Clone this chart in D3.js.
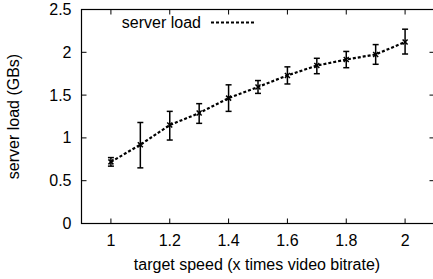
<!DOCTYPE html>
<html><head><meta charset="utf-8">
<script src="https://cdn.jsdelivr.net/npm/d3@7"></script>
<style>body{margin:0;background:#fff}svg{display:block}text{font-family:"Liberation Sans",Arial,sans-serif;fill:#000}</style>
</head><body><svg id="c" width="433" height="279"></svg>
<script>
const speeds = [1.0, 1.1, 1.2, 1.3, 1.4, 1.5, 1.6, 1.7, 1.8, 1.9, 2.0];
const load   = [0.72, 0.92, 1.15, 1.29, 1.465, 1.595, 1.73, 1.845, 1.915, 1.975, 2.12];
const errLow = [0.67, 0.65, 0.975, 1.17, 1.31, 1.52, 1.63, 1.75, 1.82, 1.86, 1.98];
const errHigh= [0.77, 1.18, 1.31, 1.40, 1.62, 1.67, 1.83, 1.93, 2.01, 2.09, 2.27];
const xTicks = [1, 1.2, 1.4, 1.6, 1.8, 2];
const yTicks = [0, 0.5, 1, 1.5, 2, 2.5];
const seriesName = "server load";

const svg = d3.select("#c");
const L = 81.5, R = 434.5, T = 9.5, B = 223.5;
const x = d3.scaleLinear().domain([0.9, 2.1]).range([L, R]);
const y = d3.scaleLinear().domain([0, 2.5]).range([B, T]);
const fs = 16;

svg.append("rect").attr("x", L).attr("y", T).attr("width", R - L).attr("height", B - T)
  .attr("fill", "none").attr("stroke", "#000").attr("stroke-width", 1.2);

const tl = 5;
xTicks.forEach(v => {
  svg.append("line").attr("x1", x(v)).attr("x2", x(v)).attr("y1", B).attr("y2", B - tl).attr("stroke", "#000");
  svg.append("line").attr("x1", x(v)).attr("x2", x(v)).attr("y1", T).attr("y2", T + tl).attr("stroke", "#000");
  svg.append("text").attr("x", x(v)).attr("y", B + 22).attr("text-anchor", "middle")
    .attr("font-size", fs).text(d3.format("")(v));
});
yTicks.forEach(v => {
  svg.append("line").attr("x1", L).attr("x2", L + tl).attr("y1", y(v)).attr("y2", y(v)).attr("stroke", "#000");
  svg.append("line").attr("x1", R).attr("x2", R - tl).attr("y1", y(v)).attr("y2", y(v)).attr("stroke", "#000");
  svg.append("text").attr("x", L - 10).attr("y", y(v) + 5.5).attr("text-anchor", "end")
    .attr("font-size", fs).text(d3.format("")(v));
});

svg.append("text").attr("x", 257).attr("y", 270).attr("text-anchor", "middle")
  .attr("font-size", fs).text("target speed (x times video bitrate)");
svg.append("text").attr("transform", `translate(19,${(T + B) / 2}) rotate(-90)`).attr("text-anchor", "middle")
  .attr("font-size", fs).text("server load (GBs)");

const data = speeds.map((s, i) => ({s, v: load[i], lo: errLow[i], hi: errHigh[i]}));
svg.append("path").datum(data)
  .attr("d", d3.line().x(d => x(d.s)).y(d => y(d.v)))
  .attr("fill", "none").attr("stroke", "#000").attr("stroke-width", 2.2).attr("stroke-dasharray", "3,2");

const cw = 3;
data.forEach(d => {
  const g = svg.append("g").attr("stroke", "#000").attr("stroke-width", 1.5);
  g.append("line").attr("x1", x(d.s)).attr("x2", x(d.s)).attr("y1", y(d.lo)).attr("y2", y(d.hi));
  g.append("line").attr("x1", x(d.s) - cw).attr("x2", x(d.s) + cw).attr("y1", y(d.lo)).attr("y2", y(d.lo));
  g.append("line").attr("x1", x(d.s) - cw).attr("x2", x(d.s) + cw).attr("y1", y(d.hi)).attr("y2", y(d.hi));
  const m = 2.5;
  g.append("line").attr("x1", x(d.s) - m).attr("x2", x(d.s) + m).attr("y1", y(d.v) - m).attr("y2", y(d.v) + m);
  g.append("line").attr("x1", x(d.s) - m).attr("x2", x(d.s) + m).attr("y1", y(d.v) + m).attr("y2", y(d.v) - m);
});

svg.append("text").attr("x", 201).attr("y", 28).attr("text-anchor", "end").attr("font-size", fs).text(seriesName);
svg.append("line").attr("x1", 211).attr("x2", 256).attr("y1", 22.5).attr("y2", 22.5)
  .attr("stroke", "#000").attr("stroke-width", 2.2).attr("stroke-dasharray", "3,2");
</script></body></html>
